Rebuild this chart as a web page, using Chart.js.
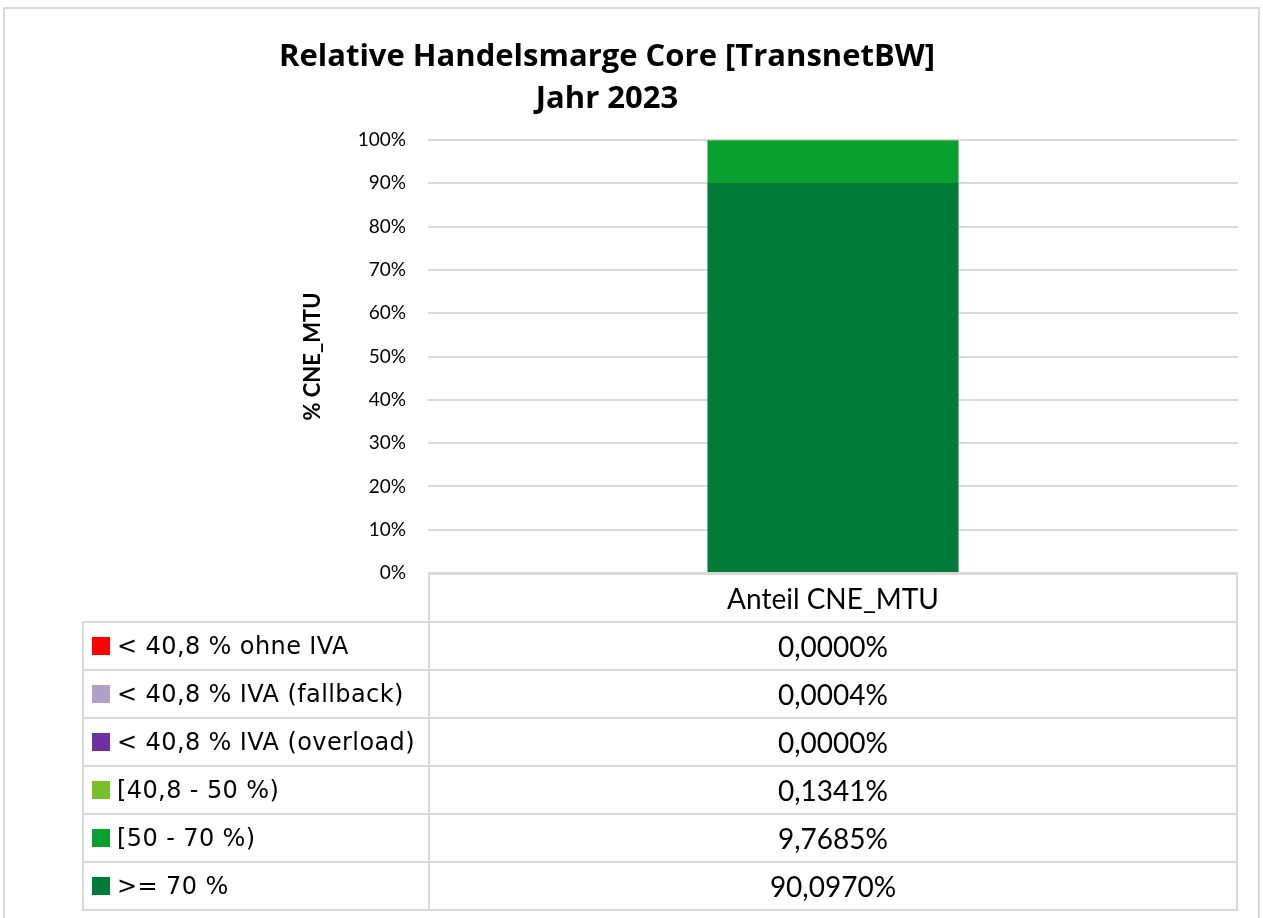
<!DOCTYPE html>
<html>
<head>
<meta charset="utf-8">
<script src="https://cdn.jsdelivr.net/npm/chart.js@4"></script>
<style>
  body { margin: 0; background: #fff; }
  #wrap { position: relative; width: 1263px; height: 918px; overflow: hidden; }
  #rahmen { position: absolute; left: 3px; top: 7px; width: 1257px; height: 930px; border: 2px solid #d9d9d9; box-sizing: border-box; }
  #titel { position: absolute; left: 0; top: 33px; width: 1214px; text-align: center; font-family: "Open Sans", sans-serif; font-weight: bold; font-size: 31px; line-height: 42px; color: #000; }
  canvas { position: absolute; left: 0; top: 0; }
  .zelle { position: absolute; box-sizing: border-box; border: 2px solid #d9d9d9; display: flex; align-items: center; white-space: nowrap; color: #000; }
  .kopf, .wert { font-family: Lato, sans-serif; font-size: 28px; justify-content: center; }
  .name { font-family: "DejaVu Sans", sans-serif; font-size: 24px; letter-spacing: 0.4px; padding-left: 8px; }
  .box { display: inline-block; width: 18px; height: 18px; margin-right: 7px; }
</style>
</head>
<body>
<div id="wrap">
  <div id="rahmen"></div>
  <canvas id="grafik" width="1263" height="918"></canvas>
  <div id="titel"></div>
  <div id="tabelle"></div>
</div>
<script>
const titelZeilen = ["Relative Handelsmarge Core [TransnetBW]", "Jahr 2023"];
const kategorien = ["Anteil CNE_MTU"];
const serienNamen = ["< 40,8 % ohne IVA", "< 40,8 % IVA (fallback)", "< 40,8 % IVA (overload)", "[40,8 - 50 %)", "[50 - 70 %)", ">= 70 %"];
const serienWerte = [0.0000, 0.0004, 0.0000, 0.1341, 9.7685, 90.0970];
const serienFarben = ["#ff0000", "#b1a0c7", "#7030a0", "#78c02a", "#0aa02f", "#007b38"];
const yTicks = [0, 10, 20, 30, 40, 50, 60, 70, 80, 90, 100];

const fmt = v => v.toFixed(4).replace(".", ",") + "%";
const esc = s => s.replace(/&/g, "&amp;").replace(/</g, "&lt;").replace(/>/g, "&gt;");

document.getElementById("titel").innerHTML = titelZeilen.map(esc).join("<br>");

// Reihenfolge umdrehen: ">= 70 %" liegt unten im Stapel
const datasets = [];
for (let i = serienNamen.length - 1; i >= 0; i--) {
  datasets.push({
    label: serienNamen[i],
    data: [serienWerte[i]],
    backgroundColor: serienFarben[i],
    borderWidth: 0,
    categoryPercentage: 1,
    barPercentage: 0.31
  });
}

// Datentabelle unter dem Diagramm an die Zeichenfläche anlegen
const tabellePlugin = {
  id: "datentabelle",
  afterLayout(chart) {
    const a = chart.chartArea;
    const links = 82, zeile = 48;
    let html = `<div class="zelle kopf" style="left:${a.left}px;top:${a.bottom}px;width:${a.right - a.left}px;height:${zeile + 2}px">${esc(kategorien[0])}</div>`;
    serienNamen.forEach((n, i) => {
      const top = a.bottom + zeile * (i + 1);
      html += `<div class="zelle name" style="left:${links}px;top:${top}px;width:${a.left - links + 2}px;height:${zeile + 2}px"><span class="box" style="background:${serienFarben[i]}"></span>${esc(n)}</div>`;
      html += `<div class="zelle wert" style="left:${a.left}px;top:${top}px;width:${a.right - a.left}px;height:${zeile + 2}px">${fmt(serienWerte[i])}</div>`;
    });
    document.getElementById("tabelle").innerHTML = html;
  }
};

new Chart(document.getElementById("grafik").getContext("2d"), {
  type: "bar",
  data: { labels: kategorien, datasets },
  plugins: [tabellePlugin],
  options: {
    responsive: false,
    animation: false,
    layout: { padding: { left: 290, right: 25, top: 140, bottom: 345 } },
    scales: {
      x: {
        stacked: true,
        ticks: { display: false },
        grid: { display: false },
        border: { display: false },
        afterFit: s => { s.height = 0; }
      },
      y: {
        stacked: true,
        min: 0,
        max: 100,
        afterBuildTicks: s => { s.ticks = yTicks.map(v => ({ value: v })); },
        afterFit: s => { s.width = 138; },
        ticks: {
          callback: v => v + "%",
          color: "#000",
          font: { family: "Lato", size: 19 },
          padding: 22
        },
        grid: { color: "#d9d9d9", lineWidth: 2, drawTicks: false },
        border: { display: false },
        title: {
          display: true,
          text: "% CNE_MTU",
          color: "#000",
          font: { family: "Lato", size: 22, weight: "bold" },
          padding: { top: 10, bottom: 0 }
        }
      }
    },
    plugins: {
      legend: { display: false },
      tooltip: { enabled: false },
      title: { display: false }
    }
  }
});
</script>
</body>
</html>
